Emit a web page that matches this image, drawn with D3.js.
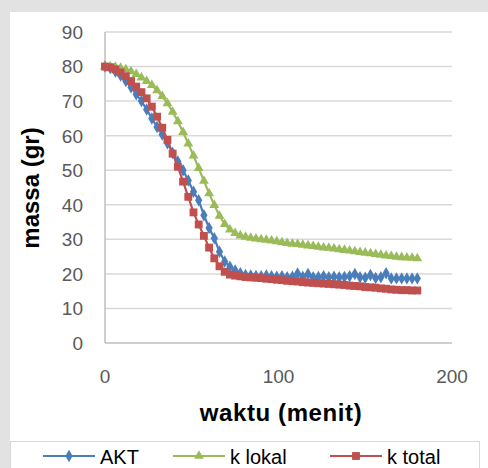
<!DOCTYPE html>
<html><head><meta charset="utf-8">
<script src="https://cdn.jsdelivr.net/npm/d3@7"></script>
<style>body{margin:0;background:#fff}svg{display:block}</style>
</head><body><svg id="c" width="488" height="468"></svg>
<script>
const times = d3.range(0, 181, 3);
const akt = [80,79.6,78.6,77.4,75.8,74,72,70,67.6,65,62.5,60.3,57.8,55,52.5,50,47,43.8,41.3,37,33.3,30.3,26.4,23.6,22.1,21,20.2,
  19.7,19.5,19.4,19.3,19.5,19.3,19.2,19.3,19.0,19.2,20.1,19.2,20.0,19.0,19.1,19.3,19.0,19.2,19.0,19.1,19.3,20.0,19.0,18.9,19.7,18.8,19.0,20.2,18.7,18.7,18.7,18.7,18.7,18.7];
const kLokal = [80,80,79.9,79.6,79.2,78.6,77.8,76.8,75.8,74.6,73.1,71.4,69.3,66.9,64.1,61.0,57.7,54.2,50.6,46.9,43.3,39.9,36.8,34.4,32.8,31.8,31.1,
  30.7,30.4,30.2,30.0,29.8,29.6,29.4,29.1,28.9,28.7,28.6,28.4,28.2,28.0,27.8,27.6,27.5,27.3,27.1,26.9,26.7,26.5,26.3,26.1,25.9,25.7,25.5,25.3,25.1,24.9,24.8,24.7,24.6,24.5];
const kTotal = [80,79.8,79.2,78.3,77.2,75.8,74.2,72.6,70.8,68.4,65.5,62.3,58.8,54.8,51,46.7,42.3,37.8,34.3,31,27.6,24.5,22.2,20.6,19.8,19.5,19.3,
  19.1,19.0,18.9,18.8,18.6,18.5,18.3,18.2,18.0,17.9,17.8,17.6,17.5,17.4,17.3,17.2,17.1,17.0,16.9,16.8,16.6,16.5,16.4,16.2,16.1,16.0,15.8,15.7,15.5,15.4,15.3,15.3,15.2,15.2];
const xTicks = [0, 100, 200];
const yTicks = [0,10,20,30,40,50,60,70,80,90];
const seriesNames = ["AKT", "k lokal", "k total"];
const seriesColors = ["#4A7EBB", "#9BBB59", "#C0504D"];
const seriesData = [akt, kLokal, kTotal];

const svg = d3.select("#c");
const font = "'Liberation Sans', Arial, sans-serif";
svg.append("rect").attr("width",488).attr("height",468).attr("fill","#e2e2e2");
svg.append("rect").attr("x",10).attr("y",12).attr("width",478).attr("height",456).attr("fill","#fff");

const x = d3.scaleLinear().domain([0,200]).range([105,452]);
const y = d3.scaleLinear().domain([0,90]).range([343,32]);

svg.append("g").selectAll("line").data(yTicks.filter(d=>d>0)).join("line")
  .attr("x1",x(0)).attr("x2",x(200)).attr("y1",d=>y(d)).attr("y2",d=>y(d))
  .attr("stroke","#d9d9d9").attr("stroke-width",1.5);
svg.append("line").attr("x1",x(0)).attr("x2",x(0)).attr("y1",y(90)).attr("y2",y(0)).attr("stroke","#bfbfbf").attr("stroke-width",1.5);
svg.append("line").attr("x1",x(0)).attr("x2",x(200)).attr("y1",y(0)).attr("y2",y(0)).attr("stroke","#bfbfbf").attr("stroke-width",1.5);

svg.append("g").selectAll("text").data(yTicks).join("text")
  .attr("x",83).attr("y",d=>y(d)).attr("dy","0.36em").attr("text-anchor","end")
  .attr("font-family",font).attr("font-size",19).attr("fill","#595959").text(d=>d);
svg.append("g").selectAll("text").data(xTicks).join("text")
  .attr("x",d=>x(d)).attr("y",383).attr("text-anchor","middle")
  .attr("font-family",font).attr("font-size",19).attr("fill","#595959").text(d=>d);

svg.append("text").attr("transform","translate(39,188) rotate(-90)").attr("text-anchor","middle")
  .attr("font-family",font).attr("font-weight","bold").attr("font-size",24).attr("fill","#000").text("massa (gr)");
svg.append("text").attr("x",281).attr("y",421).attr("text-anchor","middle")
  .attr("font-family",font).attr("font-weight","bold").attr("font-size",24).attr("letter-spacing",0.6).attr("fill","#000").text("waktu (menit)");

const line = d3.line().x((d,i)=>x(times[i])).y(d=>y(d));
const symbols = [d3.symbolDiamond, d3.symbolTriangle, d3.symbolSquare];
const sizes = [45, 42, 62];
[0,1,2].forEach(k=>{
  const g = svg.append("g");
  g.append("path").attr("d",line(seriesData[k])).attr("fill","none").attr("stroke",seriesColors[k]).attr("stroke-width",2.2);
  g.selectAll("path.m").data(seriesData[k]).join("path").attr("class","m")
    .attr("transform",(d,i)=>`translate(${x(times[i])},${y(d)})`)
    .attr("d",d3.symbol().type(symbols[k]).size(sizes[k])).attr("fill",seriesColors[k]);
});

svg.append("rect").attr("x",10.5).attr("y",441.5).attr("width",469).attr("height",30).attr("fill","#fff").attr("stroke","#d9d9d9");
const legX = [43, 173, 330];
seriesNames.forEach((n,k)=>{
  const g = svg.append("g");
  g.append("line").attr("x1",legX[k]).attr("x2",legX[k]+52).attr("y1",456).attr("y2",456).attr("stroke",seriesColors[k]).attr("stroke-width",2.2);
  g.append("path").attr("transform",`translate(${legX[k]+26},456)`).attr("d",d3.symbol().type(symbols[k]).size(sizes[k])).attr("fill",seriesColors[k]);
  g.append("text").attr("x",legX[k]+57).attr("y",464).attr("font-family",font).attr("font-size",20).attr("fill","#000").text(n);
});
</script></body></html>
